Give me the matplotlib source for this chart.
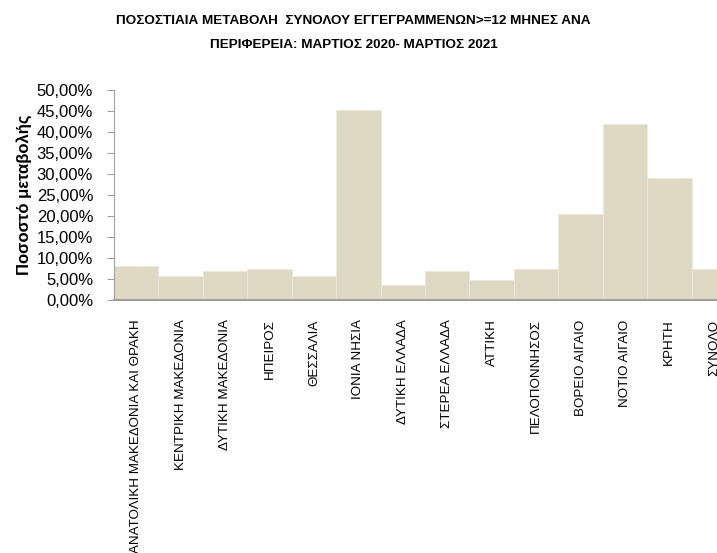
import numpy as np
import matplotlib.pyplot as plt
from matplotlib.ticker import FuncFormatter

# Regions and percent change of registered unemployed >= 12 months
regions = ["ΑΝΑΤΟΛΙΚΗ ΜΑΚΕΔΟΝΙΑ ΚΑΙ ΘΡΑΚΗ", "ΚΕΝΤΡΙΚΗ ΜΑΚΕΔΟΝΙΑ", "ΔΥΤΙΚΗ ΜΑΚΕΔΟΝΙΑ",
           "ΗΠΕΙΡΟΣ", "ΘΕΣΣΑΛΙΑ", "ΙΟΝΙΑ ΝΗΣΙΑ", "ΔΥΤΙΚΗ ΕΛΛΑΔΑ", "ΣΤΕΡΕΑ ΕΛΛΑΔΑ",
           "ΑΤΤΙΚΗ", "ΠΕΛΟΠΟΝΝΗΣΟΣ", "ΒΟΡΕΙΟ ΑΙΓΑΙΟ", "ΝΟΤΙΟ ΑΙΓΑΙΟ", "ΚΡΗΤΗ", "ΣΥΝΟΛΟ"]
change = [8.2, 5.7, 7.0, 7.5, 5.7, 45.3, 3.5, 6.8, 4.8, 7.3, 20.5, 42.0, 29.0, 7.3]
yticks = np.arange(0, 55, 5)

plt.rcParams['font.family'] = ['Liberation Sans', 'DejaVu Sans']

fig = plt.figure(figsize=(7.17, 5.53), dpi=100)
# axes deliberately runs past the right edge, like the original
ax = fig.add_axes([114 / 717, 1 - 300 / 553, 622 / 717, 210 / 553])

x = np.arange(len(regions))
ax.bar(x, change, width=1.0, color='#ddd9c3', edgecolor='#ece9dc', linewidth=0.6)

ax.set_xlim(-0.5, len(regions) - 0.5)
ax.set_ylim(0, 50)
ax.set_yticks(yticks)
ax.yaxis.set_major_formatter(FuncFormatter(lambda v, p: f"{v:.2f}".replace('.', ',') + "%"))
ax.tick_params(axis='y', labelsize=12, length=5, color='#a0a0a0', pad=10)
ax.set_xticks(x)
ax.set_xticklabels(regions, rotation=90, va='top', ha='center', fontsize=9.6)
ax.tick_params(axis='x', length=0, pad=14)

for s in ['top', 'right']:
    ax.spines[s].set_visible(False)
for s in ['left', 'bottom']:
    ax.spines[s].set_color('#a0a0a0')
ax.spines['bottom'].set_linewidth(1.5)

ax.set_ylabel("Ποσοστό μεταβολής", fontsize=12, fontweight='bold', labelpad=3)

fig.text(0.493, 1 - 21 / 553, "ΠΟΣΟΣΤΙΑΙΑ ΜΕΤΑΒΟΛΗ  ΣΥΝΟΛΟΥ ΕΓΓΕΓΡΑΜΜΕΝΩΝ>=12 ΜΗΝΕΣ ΑΝΑ",
         ha='center', va='center', fontsize=9.7, fontweight='bold')
fig.text(0.493, 1 - 45 / 553, "ΠΕΡΙΦΕΡΕΙΑ: ΜΑΡΤΙΟΣ 2020- ΜΑΡΤΙΟΣ 2021",
         ha='center', va='center', fontsize=9.7, fontweight='bold')

fig.savefig("out.png", dpi=100)
